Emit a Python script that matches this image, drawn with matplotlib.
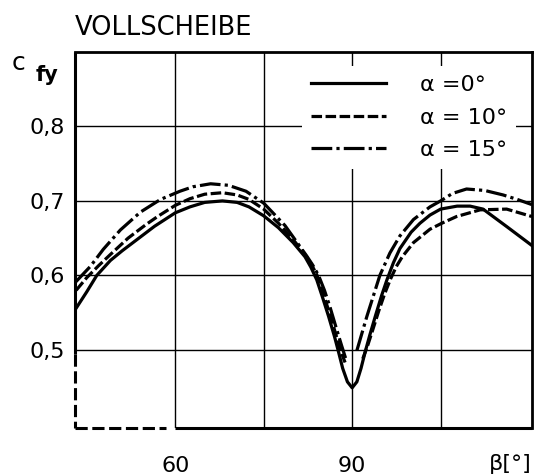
"""Force coefficient c_fy over beta for a solid disc (Vollscheibe)."""

import numpy as np
import matplotlib

matplotlib.use("Agg")
import matplotlib.pyplot as plt
from matplotlib.lines import Line2D

# beta in degrees
beta_a0 = [43.2, 45, 46.7, 49, 51, 53.5, 56.5, 60, 62.5, 65, 68, 70.5, 72.5, 75,
           77.5, 80, 82, 83, 84, 85, 86, 87, 87.6, 88.4, 89.2, 90,
           90.8, 91.5, 92.2, 93, 94, 95, 95.9, 97, 98.1, 100, 101.5, 103.2, 105,
           107.8, 110, 112.2, 116.3, 120.5]
cfy_a0 = [0.556, 0.578, 0.600, 0.620, 0.633, 0.648, 0.666, 0.684, 0.692, 0.698,
          0.700, 0.698, 0.692, 0.680, 0.664, 0.644, 0.625, 0.611, 0.594, 0.570,
          0.545, 0.518, 0.500, 0.475, 0.457, 0.449,
          0.457, 0.475, 0.497, 0.520, 0.547, 0.573, 0.594, 0.617, 0.636, 0.658,
          0.670, 0.681, 0.689, 0.693, 0.693, 0.689, 0.665, 0.640]

# alpha = 10 deg, gap around the minimum
beta_a10 = [43.2, 45, 47, 49, 52, 55, 57, 60, 62.5, 65, 68, 70.5, 72.5, 75, 77.5,
            80, 82, 83, 84, 85, 86, 87, 88, 88.8, np.nan,
            91.8, 92.6, 93.5, 94.5, 95.5, 96.5, 97.5, 98.5, 100.4, 103.2, 105.2,
            107.7, 111.7, 116.2, 120.5]
cfy_a10 = [0.580, 0.597, 0.613, 0.628, 0.650, 0.668, 0.679, 0.694, 0.703, 0.709,
           0.711, 0.708, 0.702, 0.689, 0.670, 0.648, 0.628, 0.616, 0.601, 0.578,
           0.553, 0.527, 0.500, 0.483, np.nan,
           0.488, 0.505, 0.527, 0.552, 0.575, 0.595, 0.612, 0.625, 0.644, 0.662,
           0.670, 0.679, 0.688, 0.689, 0.679]

# alpha = 15 deg
beta_a15 = [43.1, 45.6, 47.8, 50.7, 54.1, 57.5, 60.8, 63, 66, 69, 72, 75, 78.6,
            82.3, 83.3, 84.3, 85.3, 86.3, 87.2, 88.2, 89, np.nan,
            90.8, 92.5, 94.7, 96.4, 98.1, 100.4, 103.2, 105, 107, 109.4, 112.5,
            115.6, 118, 120.5]
cfy_a15 = [0.591, 0.612, 0.635, 0.661, 0.685, 0.702, 0.713, 0.719, 0.723, 0.721,
           0.713, 0.697, 0.667, 0.626, 0.614, 0.600, 0.580, 0.556, 0.532, 0.506,
           0.486, np.nan,
           0.499, 0.545, 0.600, 0.630, 0.653, 0.675, 0.692, 0.700, 0.710, 0.716,
           0.714, 0.708, 0.702, 0.695]

legend_labels = ["\u03b1 =0\u00b0", "\u03b1 = 10\u00b0", "\u03b1 = 15\u00b0"]
x_ticks = [60, 90]
x_grid = [75, 105]
y_ticks = [0.5, 0.6, 0.7, 0.8]
y_tick_labels = ["0,5", "0,6", "0,7", "0,8"]

LW = 2.3
DASHED = (3.3, 1.1)
DASHDOT = (6.5, 1.3, 1.0, 1.3)


def main() -> None:
    fig = plt.figure(figsize=(5.45, 4.75), dpi=100)
    ax = fig.add_axes([75 / 545, 1 - 428 / 475, 457 / 545, 376 / 475])

    ax.plot(beta_a0, cfy_a0, color="black", lw=LW, solid_joinstyle="round")
    ax.plot(beta_a10, cfy_a10, color="black", lw=LW, dashes=DASHED)
    ax.plot(beta_a15, cfy_a15, color="black", lw=LW, dashes=DASHDOT)

    ax.set_xlim(43, 120.5)
    ax.set_ylim(0.395, 0.9)

    ax.set_xticks(x_ticks)
    ax.set_xticks(x_grid, minor=True)
    ax.set_yticks(y_ticks, y_tick_labels)
    ax.tick_params(which="both", length=0)
    ax.tick_params(axis="x", pad=20, labelsize=16)
    ax.tick_params(axis="y", pad=7, labelsize=16)
    ax.grid(True, which="both", color="black", lw=1.0)

    for side in ("top", "right"):
        ax.spines[side].set_linewidth(2.0)
    ax.spines["left"].set_visible(False)
    ax.spines["bottom"].set_visible(False)

    # left axis: solid down to 0,5 then dashed; bottom: dashed up to ~58 then solid
    ax.plot([43, 43], [0.9, 0.495], color="black", lw=2.2, clip_on=False,
            solid_capstyle="butt")
    ax.plot([43, 43], [0.495, 0.395], color="black", lw=2.2, clip_on=False,
            dashes=(4, 1.5))
    ax.plot([43, 58.4], [0.395, 0.395], color="black", lw=2.2, clip_on=False,
            dashes=(4, 1.5))
    ax.plot([60, 120.5], [0.395, 0.395], color="black", lw=2.2, clip_on=False,
            solid_capstyle="butt")

    handles = [
        Line2D([], [], color="black", lw=LW),
        Line2D([], [], color="black", lw=LW, dashes=DASHED),
        Line2D([], [], color="black", lw=LW, dashes=DASHDOT),
    ]
    leg = ax.legend(handles, legend_labels, loc="upper left",
                    bbox_to_anchor=((302 - 75) / 457, (428 - 66) / 376),
                    borderaxespad=0, borderpad=0.4, handlelength=3.4,
                    handletextpad=1.5, labelspacing=0.57, fontsize=16,
                    frameon=True, fancybox=False, framealpha=1,
                    facecolor="white", edgecolor="none")
    leg.set_zorder(5)

    fig.text(75 / 545, 1 - 35 / 475, "VOLLSCHEIBE", fontsize=18.5)
    fig.text(12 / 545, 1 - 70 / 475, "c", fontsize=18)
    fig.text(36 / 545, 1 - 81 / 475, "fy", fontsize=15, fontweight="bold")
    fig.text(532 / 545, 1 - 470 / 475, "\u03b2[\u00b0]", fontsize=16, ha="right")

    fig.savefig("out.png", dpi=100)
    plt.close(fig)


if __name__ == "__main__":
    main()
